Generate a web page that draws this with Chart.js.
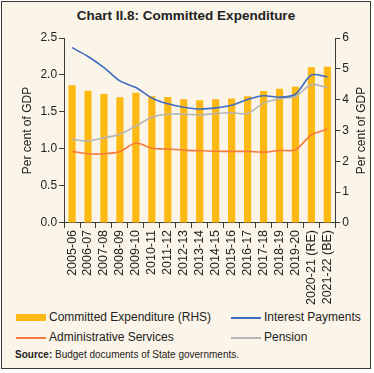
<!DOCTYPE html>
<html>
<head>
<meta charset="utf-8">
<script src="https://cdn.jsdelivr.net/npm/chart.js@4.4.1/dist/chart.umd.min.js"></script>
<style>
  body { margin: 0; background: #fff; font-family: 'Liberation Sans', Arial, sans-serif; }
  #box { position: absolute; left: 1px; top: 1px; width: 368px; height: 366px; border: 1.5px solid #3a3a3a; background: #fbf4e8; }
  #title { position: absolute; left: 0; top: 6px; width: 100%; text-align: center; font-weight: bold; font-size: 13.5px; color: #222; }
  #wrap { position: absolute; left: 0; top: 26px; width: 368px; height: 279px; }
  .leg { position: absolute; font-size: 12px; color: #222; line-height: 14px; }
  .sw { display: inline-block; width: 30px; vertical-align: middle; margin-right: 3px; }
  #source { position: absolute; left: 13px; top: 347px; font-size: 10px; color: #222; }
</style>
</head>
<body>
<div id="box">
  <div id="title">Chart II.8: Committed Expenditure</div>
  <div id="wrap"><canvas id="chart"></canvas></div>
  <div class="leg" style="left:14px;top:308px"><span class="sw" style="height:7px;background:#fdb913"></span>Committed Expenditure (RHS)</div>
  <div class="leg" style="left:229px;top:308px"><span class="sw" style="height:2px;background:#3d6cc0"></span>Interest Payments</div>
  <div class="leg" style="left:14px;top:328px"><span class="sw" style="height:2px;background:#f47b3c"></span>Administrative Services</div>
  <div class="leg" style="left:229px;top:328px"><span class="sw" style="height:2px;background:#b5b5b5"></span>Pension</div>
  <div id="source"><b>Source:</b> Budget documents of State governments.</div>
</div>
<script>
const years = ['2005-06', '2006-07', '2007-08', '2008-09', '2009-10', '2010-11', '2011-12', '2012-13',
    '2013-14', '2014-15', '2015-16', '2016-17', '2017-18', '2018-19', '2019-20', '2020-21 (RE)', '2021-22 (BE)'];
const committed = [4.47, 4.29, 4.18, 4.08, 4.22, 4.11, 4.09, 4.01, 3.98, 4.01, 4.04, 4.11, 4.28, 4.35, 4.42, 5.05, 5.07];
const interest = [2.37, 2.25, 2.10, 1.92, 1.83, 1.69, 1.61, 1.565, 1.54, 1.555, 1.59, 1.67, 1.72, 1.70, 1.74, 2.00, 1.975];
const admin = [0.967, 0.935, 0.935, 0.967, 1.08, 1.01, 1.00, 0.985, 0.976, 0.97, 0.967, 0.967, 0.957, 0.98, 0.99, 1.19, 1.27];
const pension = [1.13, 1.11, 1.15, 1.20, 1.31, 1.43, 1.47, 1.47, 1.46, 1.48, 1.49, 1.48, 1.62, 1.68, 1.71, 1.87, 1.83];

const axisColor = '#3a3a3a';
const font = { family: "'Liberation Sans', Arial, sans-serif", size: 12 };

// right axis title reads bottom-to-top like the left one
const rightTitle = {
    id: 'rightTitle',
    afterDraw(chart) {
        const c = chart.ctx;
        const s = chart.scales.y1;
        c.save();
        c.translate(s.right + 11, (s.top + s.bottom) / 2);
        c.rotate(-Math.PI / 2);
        c.font = "12px 'Liberation Sans', Arial, sans-serif";
        c.fillStyle = '#222';
        c.textAlign = 'center';
        c.textBaseline = 'middle';
        c.fillText('Per cent of GDP', 0, 0);
        c.restore();
    }
};

new Chart(document.getElementById('chart'), {
    data: {
        labels: years,
        datasets: [
            { type: 'line', label: 'Interest Payments', data: interest, yAxisID: 'y', borderColor: '#3d6cc0', borderWidth: 1.6, pointRadius: 0, tension: 0.3, order: 0 },
            { type: 'line', label: 'Administrative Services', data: admin, yAxisID: 'y', borderColor: '#f47b3c', borderWidth: 1.6, pointRadius: 0, tension: 0.3, order: 0 },
            { type: 'line', label: 'Pension', data: pension, yAxisID: 'y', borderColor: '#b5b5b5', borderWidth: 1.6, pointRadius: 0, tension: 0.3, order: 0 },
            { type: 'bar', label: 'Committed Expenditure (RHS)', data: committed, yAxisID: 'y1', backgroundColor: '#fdb913', barPercentage: 0.45, categoryPercentage: 1, order: 1 }
        ]
    },
    options: {
        responsive: true,
        maintainAspectRatio: false,
        animation: false,
        layout: { padding: { left: 14, right: 19, top: 10, bottom: 0 } },
        plugins: { legend: { display: false }, tooltip: { enabled: false } },
        scales: {
            x: {
                grid: { display: true, drawOnChartArea: false, tickLength: 5, color: axisColor },
                border: { color: axisColor },
                ticks: { autoSkip: false, minRotation: 90, maxRotation: 90, color: '#222', font: { family: font.family, size: 12.5 }, padding: 2 }
            },
            y: {
                position: 'left',
                min: 0, max: 2.5,
                grid: { display: true, drawOnChartArea: false, tickLength: 5, color: axisColor },
                border: { color: axisColor },
                ticks: { stepSize: 0.5, color: '#222', font: font, padding: 2, callback: v => v.toFixed(1) },
                title: { display: true, text: 'Per cent of GDP', color: '#222', font: font, padding: 4 }
            },
            y1: {
                position: 'right',
                min: 0, max: 6,
                grid: { display: true, drawOnChartArea: false, tickLength: 5, color: axisColor },
                border: { color: axisColor },
                ticks: { stepSize: 1, color: '#222', font: font, padding: 2 }
            }
        }
    },
    plugins: [rightTitle]
});
</script>
</body>
</html>
